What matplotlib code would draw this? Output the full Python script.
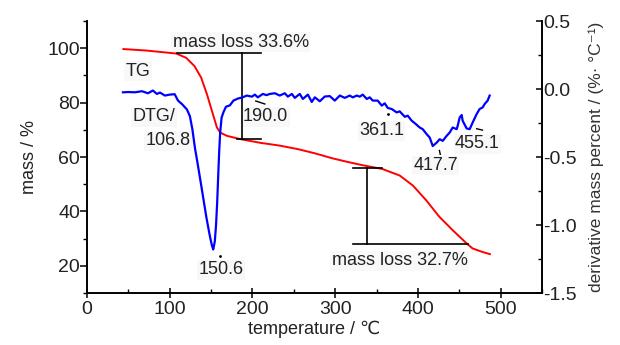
import matplotlib
matplotlib.use("Agg")
import matplotlib.pyplot as plt
from matplotlib.ticker import MultipleLocator

plt.rcParams['font.family'] = ['Liberation Sans', 'DejaVu Sans']

# TG curve (left axis)
tg_temp = [44, 72, 108, 120, 130, 138, 145, 151, 157, 161, 169, 185, 210, 233, 255,
           275, 297, 315, 333, 345, 357, 378, 394, 410, 426, 442, 459, 466, 477, 487]
tg_mass = [99.7, 99.15, 98.05, 96.45, 93.4, 89.2, 83.1, 77.0, 70.9, 69.0, 67.8, 66.6,
           65.2, 64.2, 62.9, 61.4, 59.5, 58.2, 57.0, 56.3, 55.6, 53.2, 49.5, 44.1,
           38.0, 33.1, 28.2, 26.4, 25.2, 24.3]

# DTG curve (right axis)
dtg_temp = [43.5, 50, 58, 66.4, 73.7, 79.7, 84.5, 88.2, 94.2, 100, 106, 110, 114.7, 120.8,
            124.4, 127.5, 130.4, 133.5, 136.5, 140.5, 144.5, 148.5, 151, 152.6, 154.5, 156,
            157.4, 158.6, 159.8, 161, 162.7, 165, 168, 172.7, 177, 182.4, 187.2, 193.2,
            199.3, 202.9, 206.5, 212.6, 217, 221, 227.1, 233, 239.1, 242.8, 247.6, 251.2,
            257.2, 260.9, 267, 271.7, 275.4, 281.4, 287.4, 293.5, 299.5, 305.6, 311.6,
            317.6, 321.3, 326.1, 329.7, 333.3, 338.2, 341.8, 345.4, 351.4, 356.3, 359.9,
            363.5, 368.4, 374.4, 378, 384.1, 387.7, 392.5, 397, 402.2, 405.8, 410.6, 414.3,
            417.9, 422.7, 426.3, 430, 434.8, 438.4, 442, 446.9, 448.1, 450.5, 452.9, 454.1,
            458.9, 462.6, 466.2, 471, 474.6, 478.3, 480.7, 484.3, 486.7]
dtg_vals = [-0.024, -0.022, -0.024, -0.016, -0.031, -0.011, -0.036, -0.026, -0.048, -0.041,
            -0.038, -0.085, -0.11, -0.15, -0.2, -0.30, -0.43, -0.54, -0.65, -0.80, -0.95,
            -1.08, -1.15, -1.18, -1.12, -1.0, -0.83, -0.64, -0.46, -0.32, -0.21, -0.17,
            -0.13, -0.12, -0.085, -0.07, -0.063, -0.048, -0.056, -0.041, -0.061, -0.036,
            -0.045, -0.036, -0.031, -0.048, -0.031, -0.056, -0.036, -0.065, -0.036, -0.073,
            -0.041, -0.095, -0.061, -0.090, -0.055, -0.052, -0.085, -0.048, -0.065, -0.048,
            -0.061, -0.048, -0.056, -0.041, -0.073, -0.061, -0.085, -0.085, -0.122, -0.105,
            -0.139, -0.147, -0.172, -0.164, -0.204, -0.196, -0.233, -0.255, -0.283, -0.295,
            -0.332, -0.357, -0.419, -0.394, -0.369, -0.381, -0.344, -0.320, -0.283, -0.295,
            -0.270, -0.209, -0.191, -0.233, -0.290, -0.295, -0.246, -0.184, -0.147, -0.135,
            -0.110, -0.085, -0.048]

x_ticks = [0, 100, 200, 300, 400, 500]
left_ticks = [20, 40, 60, 80, 100]
right_ticks = [-1.5, -1.0, -0.5, 0.0, 0.5]

# annotations: (text, x, y) in left-axis data units
labels = [("mass loss 33.6%", 186, 102.2), ("TG", 61.6, 91.6), ("DTG/", 81, 74.8),
          ("106.8", 97.8, 66.0), ("190.0", 216, 74.8), ("150.6", 162, 18.5),
          ("361.1", 356, 69.7), ("417.7", 421.5, 56.9), ("455.1", 472, 64.9),
          ("mass loss 32.7%", 378, 21.8)]
bracket1_x = [108.7, 210, 181.6, 187]
bracket1_y = [98.1, 66.7]
bracket2_x = [321, 356, 460, 339]
bracket2_y = [56.1, 28.0]

txtc = '#222222'
fig = plt.figure(figsize=(6.2, 3.45), dpi=100)
ax = fig.add_axes([0.1403, 0.1507, 0.7339, 0.7883])
ax2 = ax.twinx()

ax.plot(tg_temp, tg_mass, color='#ff0000', lw=1.4, zorder=3)
ax2.plot(dtg_temp, dtg_vals, color='#0000ff', lw=1.6, zorder=3)

ax.set_xlim(0, 550)
ax.set_ylim(10, 110)
ax2.set_ylim(-1.5, 0.5)
ax.set_xticks(x_ticks)
ax.set_yticks(left_ticks)
ax2.set_yticks(right_ticks)
ax2.set_yticklabels([f"{v:.1f}" for v in right_ticks])
ax.xaxis.set_minor_locator(MultipleLocator(50))
ax.yaxis.set_minor_locator(MultipleLocator(10))
ax2.yaxis.set_minor_locator(MultipleLocator(0.25))

for a in (ax, ax2):
    a.spines['top'].set_visible(False)
    for s in a.spines.values():
        s.set_linewidth(1.2)
        s.set_color('black')

ax.tick_params(axis='x', which='major', direction='inout', length=7, width=1.1,
               labelsize=14, pad=2, labelcolor=txtc)
ax.tick_params(axis='x', which='minor', direction='in', length=3, width=1.0)
ax.tick_params(axis='y', which='major', direction='out', length=5, width=1.1,
               labelsize=14, pad=0, labelcolor=txtc)
ax.tick_params(axis='y', which='minor', direction='out', length=3, width=1.0)
ax2.tick_params(axis='y', which='major', direction='in', length=4, width=1.1,
                labelsize=14, pad=1, labelcolor=txtc)
ax2.tick_params(axis='y', which='minor', direction='in', length=3, width=1.0)

ax.set_xlabel("temperature / ℃", fontsize=13, color=txtc, labelpad=2)
ax.set_ylabel("mass / %", fontsize=13, color=txtc, labelpad=7)
ax2.set_ylabel("derivative mass percent / (%· °C⁻¹)", fontsize=12.5, color='#333333',
               labelpad=8)

box = dict(facecolor='#f8f8f8', edgecolor='none', pad=1)
for t, x, y in labels:
    ax.text(x, y, t, fontsize=13, color=txtc, ha='center', va='center', bbox=box, zorder=2)

# bracket 1
ax.plot([bracket1_x[0], bracket1_x[1]], [bracket1_y[0]] * 2, color='black', lw=1.2, zorder=4)
ax.plot([bracket1_x[2], bracket1_x[1]], [bracket1_y[1]] * 2, color='black', lw=1.2, zorder=4)
ax.plot([bracket1_x[3]] * 2, bracket1_y, color='black', lw=1.2, zorder=4)
# bracket 2
ax.plot([bracket2_x[0], bracket2_x[1]], [bracket2_y[0]] * 2, color='black', lw=1.2, zorder=4)
ax.plot([bracket2_x[0], bracket2_x[2]], [bracket2_y[1]] * 2, color='black', lw=1.2, zorder=4)
ax.plot([bracket2_x[3]] * 2, bracket2_y, color='black', lw=1.2, zorder=4)

# small leader marks
ax.plot([204, 215], [80.6, 79.5], color='black', lw=1.0)
ax.plot([426, 427], [62.4, 61.0], color='black', lw=1.0)
ax.plot([471, 478], [70.4, 69.9], color='black', lw=1.0)
ax.plot([363.5], [75.9], marker='o', ms=1.0, color='black')
ax.plot([160.6], [23.6], marker='o', ms=1.0, color='black')

fig.savefig("out.png", dpi=100)
